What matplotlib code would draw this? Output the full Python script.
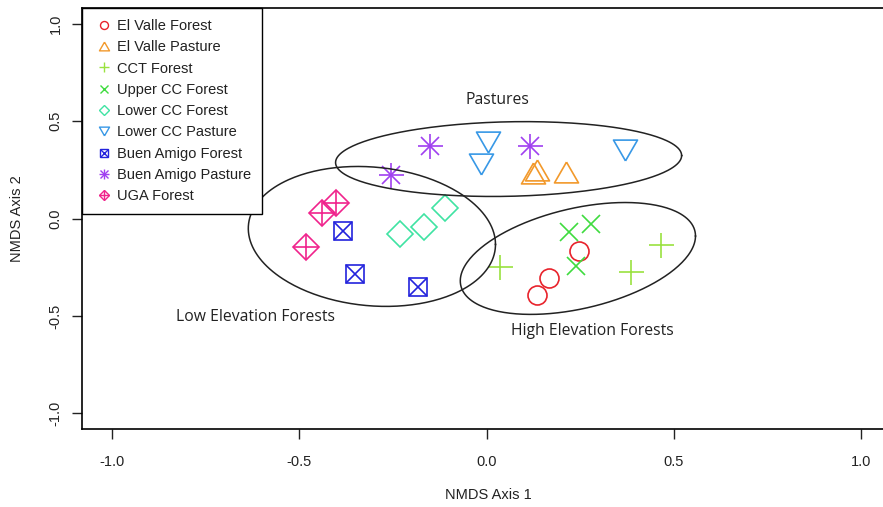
import numpy as np
import matplotlib.pyplot as plt
from matplotlib.lines import Line2D

plt.rcParams['font.family'] = ['Liberation Sans', 'DejaVu Sans']

# ====================================================
# NMDS scores
groups = ['El Valle Forest', 'El Valle Pasture', 'CCT Forest', 'Upper CC Forest',
          'Lower CC Forest', 'Lower CC Pasture', 'Buen Amigo Forest',
          'Buen Amigo Pasture', 'UGA Forest']

ev_forest_x = [0.248, 0.166, 0.136]
ev_forest_y = [-0.169, -0.303, -0.390]
ev_pasture_x = [0.123, 0.134, 0.211]
ev_pasture_y = [0.233, 0.251, 0.241]
cct_forest_x = [0.037, 0.387, 0.465]
cct_forest_y = [-0.251, -0.277, -0.138]
ucc_forest_x = [0.219, 0.280, 0.240]
ucc_forest_y = [-0.067, -0.026, -0.246]
lcc_forest_x = [-0.232, -0.166, -0.112]
lcc_forest_y = [-0.082, -0.046, 0.056]
lcc_pasture_x = [0.003, -0.016, 0.371]
lcc_pasture_y = [0.392, 0.282, 0.354]
ba_forest_x = [-0.382, -0.352, -0.184]
ba_forest_y = [-0.062, -0.287, -0.349]
ba_pasture_x = [-0.152, 0.115, -0.256]
ba_pasture_y = [0.374, 0.374, 0.221]
uga_forest_x = [-0.403, -0.438, -0.483]
uga_forest_y = [0.077, 0.026, -0.144]

# ellipses: centre x, centre y, half x-extent, half y-extent, y offset at rightmost point
ell_names = ['Pastures', 'Low Elevation Forests', 'High Elevation Forests']
ell_cx = [0.059, -0.306, 0.244]
ell_cy = [0.305, -0.092, -0.205]
ell_w = [0.462, 0.330, 0.314]
ell_h = [0.192, 0.359, 0.287]
ell_k = [0.018, -0.041, 0.115]

colors = ['#E8232C', '#F2992B', '#9AE23F', '#3FDB3F', '#3FE3A3',
          '#3898E6', '#2323DD', '#A040F0', '#F0238C']

tri_up = [(0, 0.433), (-0.5, -0.433), (0.5, -0.433), (0, 0.433)]
tri_dn = [(0, -0.433), (-0.5, 0.433), (0.5, 0.433), (0, -0.433)]

# marker layers for each group: (marker, size in px)
styles = [
    [('o', 19)],
    [(tri_up, 24)],
    [('+', 25)],
    [('x', 18)],
    [('D', 18.4)],
    [(tri_dn, 24)],
    [('s', 18), ('x', 18)],
    [('+', 25), ('x', 17.7)],
    [('D', 18.4), ('+', 26)],
]

PX = 72 / 100.0

# ====================================================
def main():
	fig = plt.figure(figsize=(8.83, 5.07), dpi=100)
	ax = fig.add_axes([82 / 883, 78 / 507, 809 / 883, 421 / 507])

	xs = [ev_forest_x, ev_pasture_x, cct_forest_x, ucc_forest_x, lcc_forest_x,
	      lcc_pasture_x, ba_forest_x, ba_pasture_x, uga_forest_x]
	ys = [ev_forest_y, ev_pasture_y, cct_forest_y, ucc_forest_y, lcc_forest_y,
	      lcc_pasture_y, ba_forest_y, ba_pasture_y, uga_forest_y]

	handles = []
	for i in range(len(groups)):
		hs = []
		for mk, sz in styles[i]:
			ax.plot(xs[i], ys[i], linestyle='none', marker=mk, markersize=sz * PX,
			        markerfacecolor='none', markeredgecolor=colors[i],
			        markeredgewidth=1.2)
			hs.append(Line2D([], [], linestyle='none', marker=mk,
			                 markersize=sz * PX * 0.42, markerfacecolor='none',
			                 markeredgecolor=colors[i], markeredgewidth=1.0))
		handles.append(tuple(hs))

	t = np.linspace(0, 2 * np.pi, 300)
	for i in range(len(ell_names)):
		ex = ell_cx[i] + ell_w[i] * np.cos(t)
		ey = ell_cy[i] + ell_k[i] * np.cos(t) + np.sqrt(ell_h[i]**2 - ell_k[i]**2) * np.sin(t)
		ax.plot(ex, ey, color='#222222', linewidth=1.1)

	lab_font = dict(family=['Open Sans', 'DejaVu Sans'], fontsize=11.3, color='#222222')
	ax.text(0.029, 0.61, 'Pastures', ha='center', va='center', **lab_font)
	ax.text(-0.617, -0.503, 'Low Elevation Forests', ha='center', va='center', **lab_font)
	ax.text(0.283, -0.579, 'High Elevation Forests', ha='center', va='center', **lab_font)

	leg = ax.legend(handles, groups, loc='upper left', borderaxespad=0,
	                fancybox=False, framealpha=1, edgecolor='black',
	                fontsize=10.5, handlelength=1.55, handletextpad=0.1,
	                labelspacing=0.5, borderpad=0.75)
	leg.get_frame().set_linewidth(1.0)
	for txt in leg.get_texts():
		txt.set_color('#222222')

	ax.set_xlim(-1.08, 1.08)
	ax.set_ylim(-1.08, 1.08)
	ax.set_xticks([-1.0, -0.5, 0.0, 0.5, 1.0])
	ax.set_yticks([-1.0, -0.5, 0.0, 0.5, 1.0])
	ax.set_xticklabels(['-1.0', '-0.5', '0.0', '0.5', '1.0'])
	ax.set_yticklabels(['-1.0', '-0.5', '0.0', '0.5', '1.0'], rotation=90, va='center')
	ax.tick_params(direction='out', length=7, width=1, labelsize=10.5, colors='#222222')
	ax.tick_params(axis='x', pad=12)
	ax.tick_params(axis='y', pad=7)
	ax.spines['right'].set_visible(False)
	for s in ['left', 'bottom', 'top']:
		ax.spines[s].set_linewidth(1.2)
	ax.set_xlabel('NMDS Axis 1', fontsize=10.5, color='#222222')
	ax.set_ylabel('NMDS Axis 2', fontsize=10.5, color='#222222')
	ax.xaxis.set_label_coords(406 / 809, -59 / 421)
	ax.yaxis.set_label_coords(-58 / 809, 0.5)

	fig.savefig('out.png', dpi=100)

# ====================================================
if __name__ == "__main__":
	main()
